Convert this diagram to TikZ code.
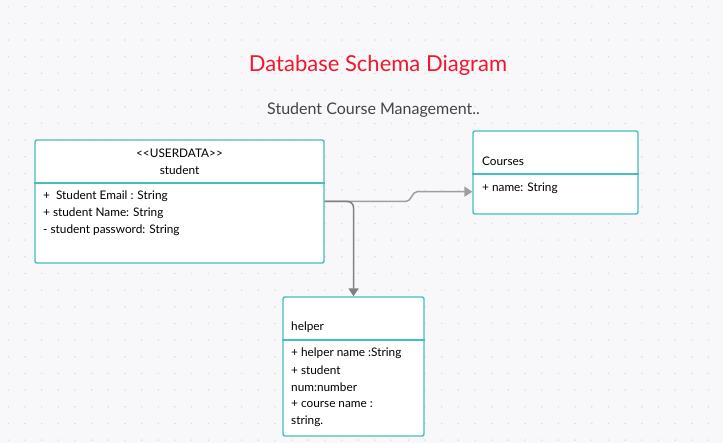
\documentclass[tikz,border=0pt]{standalone}
\usepackage{fontspec}
\setmainfont{Lato}
\usetikzlibrary{arrows.meta}
\definecolor{bgc}{HTML}{F8F8FA}
\definecolor{dotc}{HTML}{D9D9DE}
\definecolor{edgec}{HTML}{45BFBC}
\definecolor{titlec}{HTML}{F2172B}
\definecolor{subc}{HTML}{444444}
\definecolor{linec}{HTML}{9E9E9E}
\definecolor{linedk}{HTML}{808080}
\tikzset{>/.tip={Triangle[length=8pt,width=10pt]}}

\begin{document}
\begin{tikzpicture}[x=1pt,y=-1pt,
  umlbox/.style={draw=edgec,line width=1.4pt,fill=white,rounded corners=2pt,inner sep=0pt},
  attr/.style={anchor=west,inner sep=0pt,font=\fontsize{11.8}{14}\selectfont},
  conn/.style={->,line width=1.5pt}]
\fill[bgc] (0,0) rectangle (723,443);
\useasboundingbox (0,0) rectangle (723,443);
\foreach \i in {0,...,43}
  \foreach \j in {0,...,26}
    \fill[dotc] (8.3+16.67*\i,6.7+16.67*\j) circle (0.8);

\node (title) at (378,65) {\fontsize{22}{26}\selectfont\color{titlec}Database Schema Diagram};
\node (sub)   at (373.5,110) {\fontsize{16}{19}\selectfont\color{subc}Student Course Management..};

\node[umlbox,minimum width=289pt,minimum height=123pt] (student) at (179.5,201.5) {};
\node[umlbox,minimum width=165pt,minimum height=83pt]  (courses) at (555.5,172.5) {};
\node[umlbox,minimum width=141pt,minimum height=139pt] (helper)  at (353.5,366.5) {};

\draw[edgec,line width=1.4pt] (student.west |- 0,183) -- (student.east |- 0,183);
\draw[edgec,line width=1.4pt] (courses.west |- 0,174) -- (courses.east |- 0,174);
\draw[edgec,line width=1.4pt] (helper.west |- 0,340)  -- (helper.east |- 0,340);

\node[attr,anchor=center] (stStereo) at (179.5,153.5) {<{}<USERDATA>{}>};
\node[attr,anchor=center] (stName)   at (179.5,170.5) {student};
\node[attr] (stEmail) at (43,196.5) {+\ \ Student Email : String};
\node[attr] (stSName) at (43,213.5) {+ student Name: String};
\node[attr] (stPass)  at (43,230.5) {- student password: String};

\node[attr] (coName)  at (482,161.5) {Courses};
\node[attr] (coAttr)  at (482,188) {+ name: String};

\node[attr] (heName)  at (291,327.5) {helper};
\node[attr] (heA)     at (291,353.5) {+ helper name :String};
\node[attr] (heB)     at (291,370.5) {+ student};
\node[attr] (heC)     at (291,387.5) {num:number};
\node[attr] (heD)     at (291,404.5) {+ course name :};
\node[attr] (heE)     at (291,421.5) {string.};

\draw[conn,linec] (student.east) -- ++(81,0) to[out=0,in=180] ++(12,-10) -- ([yshift=-19.2pt]courses.west);
\draw[conn,linedk,rounded corners=6pt] (student.east) -| (helper.north);
\end{tikzpicture}
\end{document}
